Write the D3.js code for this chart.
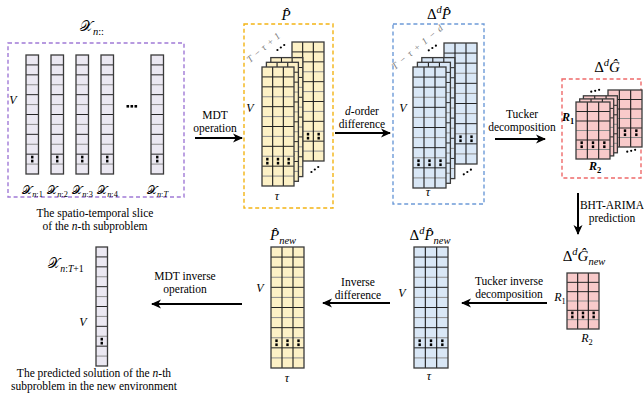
<!DOCTYPE html>
<html>
<head>
<meta charset="utf-8">
<script src="https://cdn.jsdelivr.net/npm/d3@7"></script>
<style>
  body { margin: 0; background: #fff; }
</style>
</head>
<body>
<svg id="fig" width="644" height="405"></svg>
<script>
// ---- data ----
const sliceTimes = ["1", "2", "3", "4", "T"];     // columns of the spatio-temporal slice
const sliceSlots = [0, 1, 2, 3, 5];              // slot 4 holds the ellipsis
const gridRows = 12;                              // rows of V-length columns
const tensorCols = 3;                             // tau columns
const coreRows = 6, coreCols = 3;                 // R1 x R2 core
const steps = [
    ["MDT", "operation"],
    ["*d*-order", "difference"],
    ["Tucker", "decomposition"],
    ["BHT-ARIMA", "prediction"],
    ["Tucker inverse", "decomposition"],
    ["Inverse", "difference"],
    ["MDT inverse", "operation"]
];
const captions = [
    ["The spatio-temporal slice", "of the *n*-th subproblem"],
    ["The predicted solution of the *n*-th", "subproblem in the new environment"]
];
const lineTones = [1, 1, 0, 1, 0, 1, 0, 1, 0, 1, 0];  // 1 dark row rule, 0 grey

const serif = "'Liberation Serif','Times New Roman',serif";
const cal = "'DejaVu Serif','DejaVu Sans','Noto Sans',serif";
const col = {
    purple: "#a07ad6", yellow: "#f3b414", blue: "#6d9bd8", red: "#ee6a6a",
    fPurple: "#ebe8f2", fYellow: "#fdf1c6", fBlue: "#d9e7f6", fRed: "#f8caca"
};

const svg = d3.select("#fig");

svg.append("defs").append("marker")
    .attr("id", "head")
    .attr("viewBox", "0 0 10 10")
    .attr("refX", 9).attr("refY", 5)
    .attr("markerWidth", 11).attr("markerHeight", 10)
    .attr("markerUnits", "userSpaceOnUse")
    .attr("orient", "auto")
    .append("path")
    .attr("d", "M0,0.5 L10,5 L0,9.5 L2.8,5 Z")
    .attr("fill", "#000");

// text with *italic* parts
function rich(x, y, str, size, anchor) {
    const t = svg.append("text")
        .attr("x", x).attr("y", y)
        .attr("font-family", serif)
        .attr("font-size", size)
        .attr("text-anchor", anchor || "middle");
    str.split("*").forEach((s, i) => {
        if (s) t.append("tspan").attr("font-style", i % 2 ? "italic" : "normal").text(s);
    });
    return t;
}

// two-line step label
function twoLines(x, y, pair, gap) {
    rich(x, y, pair[0], 11.5);
    rich(x, y + (gap || 13), pair[1], 11.5);
}

// math label: parts [text, flags]; flags: _ sub, ^ sup, r roman, b bold, c calligraphic
function math(x, y, parts, size, anchor) {
    const t = svg.append("text")
        .attr("x", x).attr("y", y)
        .attr("font-family", serif)
        .attr("font-size", size)
        .attr("text-anchor", anchor || "middle");
    let shift = 0;
    parts.forEach(([s, k]) => {
        let target = 0, fs = size;
        if (k.includes("_")) { target = size * 0.28; fs = size * 0.7; }
        if (k.includes("^")) { target = -size * 0.4; fs = size * 0.7; }
        const ts = t.append("tspan").text(s)
            .attr("dy", target - shift)
            .attr("font-size", fs)
            .attr("font-style", k.includes("r") ? "normal" : "italic");
        if (k.includes("b")) ts.attr("font-weight", "bold");
        if (k.includes("c")) ts.attr("font-family", cal).attr("font-style", "normal").attr("font-weight", 300);
        shift = target;
    });
    return t;
}

function arrow(x1, y1, x2, y2) {
    svg.append("line")
        .attr("x1", x1).attr("y1", y1).attr("x2", x2).attr("y2", y2)
        .attr("stroke", "#000").attr("stroke-width", 2)
        .attr("marker-end", "url(#head)");
}

function dashBox(x, y, w, h, c) {
    svg.append("rect")
        .attr("x", x).attr("y", y).attr("width", w).attr("height", h)
        .attr("fill", "none").attr("stroke", c)
        .attr("stroke-width", 1.4).attr("stroke-dasharray", "4,2.8");
}

// one matrix slice with its grid and the vertical-ellipsis marks
function grid(o) {
    const g = svg.append("g");
    const xs = d3.scaleLinear().domain([0, o.cols]).range([o.x, o.x + o.w]);
    const ys = d3.scaleLinear().domain([0, o.rows]).range([o.y, o.y + o.h]);
    g.append("rect")
        .attr("x", o.x).attr("y", o.y).attr("width", o.w).attr("height", o.h)
        .attr("fill", o.fill);
    g.selectAll(".h").data(d3.range(1, o.rows)).enter().append("line")
        .attr("x1", o.x).attr("x2", o.x + o.w)
        .attr("y1", i => ys(i)).attr("y2", i => ys(i))
        .attr("stroke", i => lineTones[(i - 1) % lineTones.length] ? "#262626" : "#8c8c8c")
        .attr("stroke-width", 1);
    g.selectAll(".v").data(d3.range(1, o.cols)).enter().append("line")
        .attr("y1", o.y).attr("y2", o.y + o.h)
        .attr("x1", j => xs(j)).attr("x2", j => xs(j))
        .attr("stroke", "#1a1a1a").attr("stroke-width", 1.1);
    if (o.dot != null) {
        d3.range(o.cols).forEach(j => {
            const cx = xs(j + 0.5), cy = ys(o.dot + 0.5);
            [-3.4, 0.6].forEach(dy => g.append("rect")
                .attr("x", cx - 1.2).attr("y", cy + dy)
                .attr("width", 2.4).attr("height", 2.7).attr("fill", "#000"));
        });
    }
    g.append("rect")
        .attr("x", o.x).attr("y", o.y).attr("width", o.w).attr("height", o.h)
        .attr("fill", "none").attr("stroke", "#3a3a3a").attr("stroke-width", 1.3);
}

// stack of slices: back slice, middle slices, front slice, with diagonal dots
function stack(s) {
    const pts = [{ x: s.x + s.back[0], y: s.y + s.back[1] }];
    for (let k = s.mids; k >= 1; k--) pts.push({ x: s.x + k * s.step[0], y: s.y + k * s.step[1] });
    pts.push({ x: s.x, y: s.y });
    pts.forEach(p => grid(Object.assign({}, s, p)));
    const mid = pts[1], back = pts[0];
    [0.36, 0.52, 0.68].forEach(t => {
        const x = mid.x + (back.x - mid.x) * t, y = mid.y + (back.y - mid.y) * t;
        svg.append("circle").attr("cx", x - 1).attr("cy", y - 2).attr("r", 1.1).attr("fill", "#000");
        svg.append("circle").attr("cx", x + s.w + 1).attr("cy", y + s.h + 1).attr("r", 1.1).attr("fill", "#000");
    });
    if (s.label) {
        math(s.label[0], s.label[1], s.labelParts, 9.5, "start")
            .attr("fill", "#777")
            .attr("letter-spacing", s.spacing)
            .attr("transform", `rotate(-40,${s.label[0]},${s.label[1]})`);
    }
}

// ---------- top row ----------
dashBox(8, 43, 176, 154, col.purple);
math(92, 31, [["𝒳", "c"], ["n", "_"], ["::", "_r"]], 15);

const slot = d3.scaleLinear().domain([0, 1]).range([26, 51]);
sliceTimes.forEach((t, i) => {
    const x = slot(sliceSlots[i]);
    grid({ x: x, y: 55, w: 12.5, h: 119, cols: 1, rows: gridRows, fill: col.fPurple, dot: 10 });
    math(x + 6.5, 194, [["𝒳", "c"], ["n", "_"], [":", "_r"], [t, t === "T" ? "_" : "_r"]], 12);
});
[-4, 0, 4].forEach(d => svg.append("rect")
    .attr("x", slot(4) + 4.5 + d).attr("y", 105).attr("width", 2.6).attr("height", 2.6).attr("fill", "#000"));
math(13, 104, [["V", ""]], 12);
captions[0].forEach((c, i) => rich(95, 217 + i * 12.5, c, 11.5));

// P hat stack
dashBox(244, 24, 89, 184, col.yellow);
math(286, 20, [["P\u0302", ""]], 15);
stack({ x: 262, y: 67, w: 32, h: 119, cols: tensorCols, rows: gridRows, fill: col.fYellow, dot: 9,
    mids: 2, step: [4.4, -4.7], back: [30, -25],
    label: [250, 63], labelParts: [["T − τ + 1", ""]], spacing: 0.6 });
math(250, 112, [["V", ""]], 12);
math(277, 200, [["τ", ""]], 12);

// difference stack
dashBox(393, 24, 91, 180, col.blue);
math(439, 19, [["Δ", "r"], ["d", "^"], ["P\u0302", ""]], 15);
stack({ x: 413, y: 67, w: 33, h: 121, cols: tensorCols, rows: gridRows, fill: col.fBlue, dot: 9,
    mids: 2, step: [4.4, -4.7], back: [31, -24],
    label: [395, 70], labelParts: [["T − τ + 1 − d", ""]], spacing: 1 });
math(403, 112, [["V", ""]], 12);
math(428, 196, [["τ", ""]], 12);

// core stack
dashBox(562, 79, 79, 99, col.red);
math(607, 72, [["Δ", "r"], ["d", "^"], ["G\u0302", ""]], 15);
stack({ x: 576, y: 102, w: 34, h: 57, cols: coreCols, rows: coreRows, fill: col.fRed, dot: 4,
    mids: 2, step: [3.7, -3.1], back: [32, -12] });
math(568, 121, [["R", "b"], ["1", "_rb"]], 12);
math(595, 170, [["R", "b"], ["2", "_rb"]], 12);

// top arrows
arrow(195, 138, 242, 138);
twoLines(215, 119, steps[0]);
arrow(335, 133, 390, 133);
twoLines(362, 115, steps[1]);
arrow(495, 139, 545, 139);
twoLines(522, 118, steps[2]);

// BHT-ARIMA
arrow(578, 193, 578, 234);
twoLines(612, 209, steps[3]);

// ---------- bottom row ----------
math(584, 261, [["Δ", "r"], ["d", "^"], ["G\u0302", ""], ["new", "_"]], 15);
grid({ x: 567, y: 273, w: 32, h: 56, cols: coreCols, rows: coreRows, fill: col.fRed, dot: 4 });
math(560, 301, [["R", ""], ["1", "_r"]], 12);
math(587, 342, [["R", ""], ["2", "_r"]], 12);

arrow(547, 303, 462, 303);
twoLines(509, 285, steps[4]);

math(430, 240, [["Δ", "r"], ["d", "^"], ["P\u0302", ""], ["new", "_"]], 15);
grid({ x: 414, y: 247, w: 34, h: 121, cols: tensorCols, rows: gridRows, fill: col.fBlue, dot: 9 });
math(402, 297, [["V", ""]], 12);
math(429, 380, [["τ", ""]], 12);

arrow(390, 303, 323, 303);
twoLines(358, 286, steps[5]);

math(283, 240, [["P\u0302", ""], ["new", "_"]], 15);
grid({ x: 271, y: 247, w: 33, h: 121, cols: tensorCols, rows: gridRows, fill: col.fYellow, dot: 9 });
math(260, 292, [["V", ""]], 12);
math(287, 382, [["τ", ""]], 12);

arrow(242, 304, 152, 304);
twoLines(185, 280, steps[6]);

grid({ x: 96, y: 247, w: 11.5, h: 119, cols: 1, rows: gridRows, fill: col.fPurple, dot: 9 });
math(66, 268, [["𝒳", "c"], ["n", "_"], [":", "_r"], ["T", "_"], ["+1", "_r"]], 14);
math(83, 326, [["V", ""]], 12);
captions[1].forEach((c, i) => rich(94, 377 + i * 13, c, 11.5));
</script>
</body>
</html>
